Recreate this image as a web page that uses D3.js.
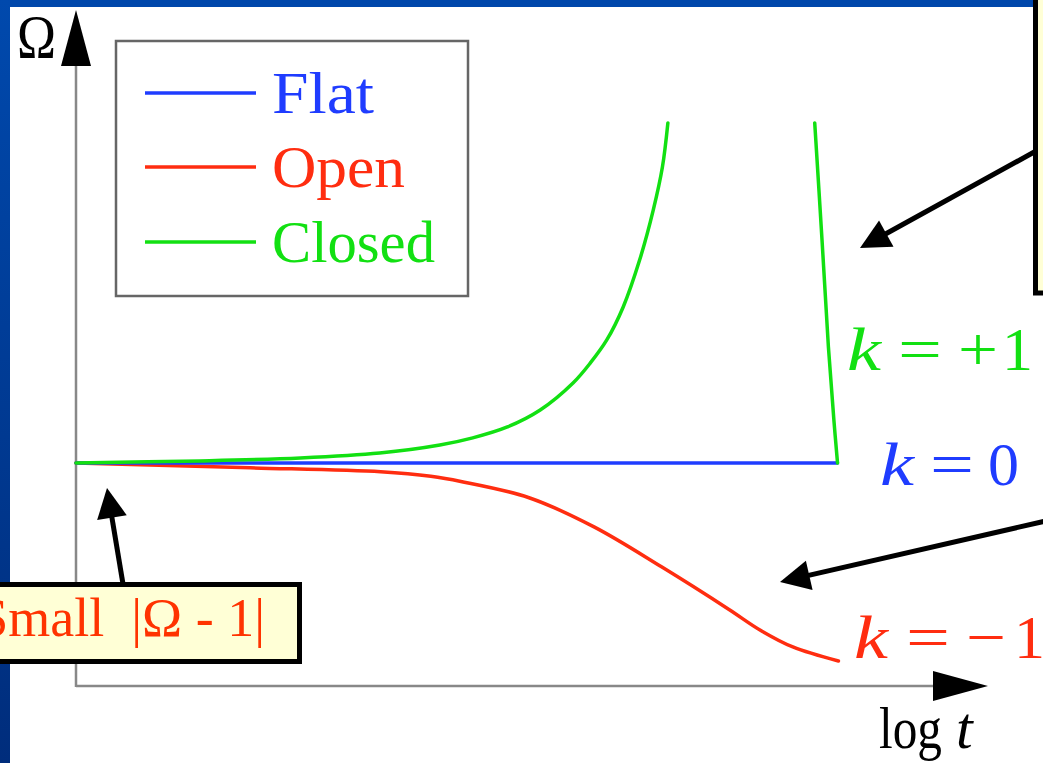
<!DOCTYPE html>
<html>
<head>
<meta charset="utf-8">
<script src="https://cdn.jsdelivr.net/npm/d3@7"></script>
<style>
  html, body { margin: 0; padding: 0; background: #fff; }
  svg { display: block; }
</style>
</head>
<body>
<div id="chart"></div>
<script>
// afmetingen van de pagina
const width = 1043;
const height = 763;
const serif = "'Liberation Serif', 'Times New Roman', serif";

const logTFlat = [0, 8.35];
const omegaFlat = [1, 1];

const logTOpen = [0, 0.81, 1.91, 3.34, 3.89, 4.22, 4.96, 5.68, 6.42, 7.16, 7.50, 7.86, 8.36];
const omegaOpen = [1.0, 0.991, 0.978, 0.960, 0.940, 0.917, 0.845, 0.713, 0.534, 0.343, 0.251, 0.175, 0.112];

// gesloten heelal: stijgende tak en dalende tak
const logTClosedRise = [0, 1.36, 2.46, 3.33, 3.99, 4.35, 4.73, 5.09, 5.45, 5.64, 5.82, 6.00, 6.18, 6.33, 6.43, 6.49];
const omegaClosedRise = [1.0, 1.009, 1.022, 1.044, 1.080, 1.112, 1.161, 1.237, 1.358, 1.448, 1.551, 1.699, 1.909, 2.134, 2.326, 2.524];
const logTClosedFall = [8.10, 8.18, 8.25, 8.31, 8.35];
const omegaClosedFall = [2.524, 2.0, 1.52, 1.193, 1.0];

const legendLabels = ["Flat", "Open", "Closed"];
const colors = {flat: "#1f3cff", open: "#ff2d10", closed: "#12e012"};

function zip(xs, ys) {
  return xs.map(function (x, i) { return {t: x, omega: ys[i]}; });
}

var svg = d3.select("#chart")
    .append("svg")
    .attr("width", width)
    .attr("height", height);

// blauwe achtergrond rand (dia)
var defs = svg.append("defs");
var grad = defs.append("linearGradient")
    .attr("id", "sideGrad")
    .attr("x1", 0).attr("y1", 0).attr("x2", 0).attr("y2", 1);
grad.append("stop").attr("offset", "0%").attr("stop-color", "#0049ad");
grad.append("stop").attr("offset", "100%").attr("stop-color", "#002d7c");

svg.append("rect").attr("x", 0).attr("y", 0).attr("width", width).attr("height", 7).attr("fill", "#0047ab");
svg.append("rect").attr("x", 0).attr("y", 0).attr("width", 10).attr("height", height).attr("fill", "url(#sideGrad)");

// schalen
var xScale = d3.scaleLinear().domain([0, 10]).range([76, 988]);
var yScale = d3.scaleLinear().domain([0, 3.03]).range([686, 10]);

// assen met pijlpunten
var x0 = xScale(0), y0 = yScale(0);
var xEnd = xScale.range()[1], yEnd = yScale.range()[1];

svg.append("line")
    .attr("x1", x0).attr("y1", y0).attr("x2", xEnd - 50).attr("y2", y0)
    .attr("stroke", "#888").attr("stroke-width", 2.5);
svg.append("line")
    .attr("x1", x0).attr("y1", y0 + 1).attr("x2", x0).attr("y2", yEnd + 50)
    .attr("stroke", "#888").attr("stroke-width", 2.5);

svg.append("path")
    .attr("d", "M" + xEnd + "," + y0 + "L" + (xEnd - 55) + "," + (y0 - 15) + "L" + (xEnd - 55) + "," + (y0 + 15) + "Z")
    .attr("fill", "#000");
svg.append("path")
    .attr("d", "M" + x0 + "," + yEnd + "L" + (x0 - 15) + "," + (yEnd + 56) + "L" + (x0 + 15) + "," + (yEnd + 56) + "Z")
    .attr("fill", "#000");

// as labels
svg.append("text")
    .attr("x", 17).attr("y", 57)
    .attr("font-family", serif)
    .attr("font-size", 62)
    .attr("textLength", 39)
    .attr("lengthAdjust", "spacingAndGlyphs")
    .text("Ω");

svg.append("text")
    .attr("x", 879).attr("y", 748)
    .attr("font-family", serif).attr("font-size", 60)
    .attr("textLength", 63).attr("lengthAdjust", "spacingAndGlyphs")
    .text("log");
svg.append("text")
    .attr("x", 956).attr("y", 748)
    .attr("font-family", serif).attr("font-size", 60)
    .attr("font-style", "italic")
    .text("t");

// lijnen
var line = d3.line()
    .x(function (d) { return xScale(d.t); })
    .y(function (d) { return yScale(d.omega); })
    .curve(d3.curveCatmullRom.alpha(0.5));

var series = [
  {data: zip(logTOpen, omegaOpen), color: colors.open},
  {data: zip(logTFlat, omegaFlat), color: colors.flat},
  {data: zip(logTClosedRise, omegaClosedRise), color: colors.closed},
  {data: zip(logTClosedFall, omegaClosedFall), color: colors.closed}
];

svg.append("g").selectAll("path")
    .data(series)
    .enter().append("path")
    .attr("d", function (d) { return line(d.data); })
    .attr("fill", "none")
    .attr("stroke", function (d) { return d.color; })
    .attr("stroke-width", 3.5)
    .attr("stroke-linecap", "round");

// legenda
var legend = svg.append("g");
legend.append("rect")
    .attr("x", 116).attr("y", 41).attr("width", 352).attr("height", 255)
    .attr("fill", "#fff").attr("stroke", "#666").attr("stroke-width", 2.5);

var legendColors = [colors.flat, colors.open, colors.closed];
var legendY = [93, 167, 242];
var legendLen = [102, 133, 163];
legendLabels.forEach(function (label, i) {
  legend.append("line")
      .attr("x1", 145).attr("x2", 256)
      .attr("y1", legendY[i]).attr("y2", legendY[i])
      .attr("stroke", legendColors[i]).attr("stroke-width", 3.5);
  legend.append("text")
      .attr("x", 272).attr("y", legendY[i] + 20)
      .attr("font-family", serif)
      .attr("font-size", 60)
      .attr("textLength", legendLen[i])
      .attr("lengthAdjust", "spacingAndGlyphs")
      .attr("fill", legendColors[i])
      .text(label);
});

// k labels, elk teken apart gezet zoals in de formule
function mathLabel(tokens, baseline, color) {
  var g = svg.append("g").attr("fill", color)
      .attr("font-family", serif).attr("font-size", 62);
  tokens.forEach(function (tk) {
    var t = g.append("text")
        .attr("x", tk[1]).attr("y", baseline)
        .text(tk[0]);
    if (tk[2]) t.attr("textLength", tk[2]).attr("lengthAdjust", "spacingAndGlyphs");
    if (tk[3]) t.attr("font-style", "italic");
  });
}

mathLabel([["k", 847, 34, true], ["=", 898, 44], ["+", 958, 40], ["1", 1002]], 370, colors.closed);
mathLabel([["k", 880, 34, true], ["=", 930, 44], ["0", 988]], 485, colors.flat);
mathLabel([["k", 854, 34, true], ["=", 906, 44], ["−", 966, 40], ["1", 1014]], 658, colors.open);

// annotatie pijlen
function arrow(x1, y1, x2, y2) {
  var dx = x2 - x1, dy = y2 - y1;
  var len = Math.sqrt(dx * dx + dy * dy);
  var ux = dx / len, uy = dy / len;
  var hl = 30, hw = 15;
  var bx = x2 - ux * hl, by = y2 - uy * hl;
  svg.append("line")
      .attr("x1", x1).attr("y1", y1).attr("x2", bx + ux * 4).attr("y2", by + uy * 4)
      .attr("stroke", "#000").attr("stroke-width", 5);
  svg.append("path")
      .attr("d", "M" + x2 + "," + y2 +
        "L" + (bx - uy * hw) + "," + (by + ux * hw) +
        "L" + (bx + uy * hw) + "," + (by - ux * hw) + "Z")
      .attr("fill", "#000");
}

arrow(1036, 151, 860, 248);
arrow(1050, 520, 780, 582);
arrow(123, 584, 107, 488);

// gele tekstvakken
svg.append("rect")
    .attr("x", 1035.5).attr("y", -10).attr("width", 30).attr("height", 303)
    .attr("fill", "#ffffd6").attr("stroke", "#000").attr("stroke-width", 5);

svg.append("rect")
    .attr("x", -10).attr("y", 584.5).attr("width", 309.5).attr("height", 77)
    .attr("fill", "#ffffd6").attr("stroke", "#000").attr("stroke-width", 5);

svg.append("text")
    .attr("x", 265).attr("y", 636)
    .attr("text-anchor", "end")
    .attr("font-family", serif)
    .attr("font-size", 54)
    .attr("fill", "#ff3300")
    .style("white-space", "pre")
    .text("Small  |Ω - 1|");
</script>
</body>
</html>
